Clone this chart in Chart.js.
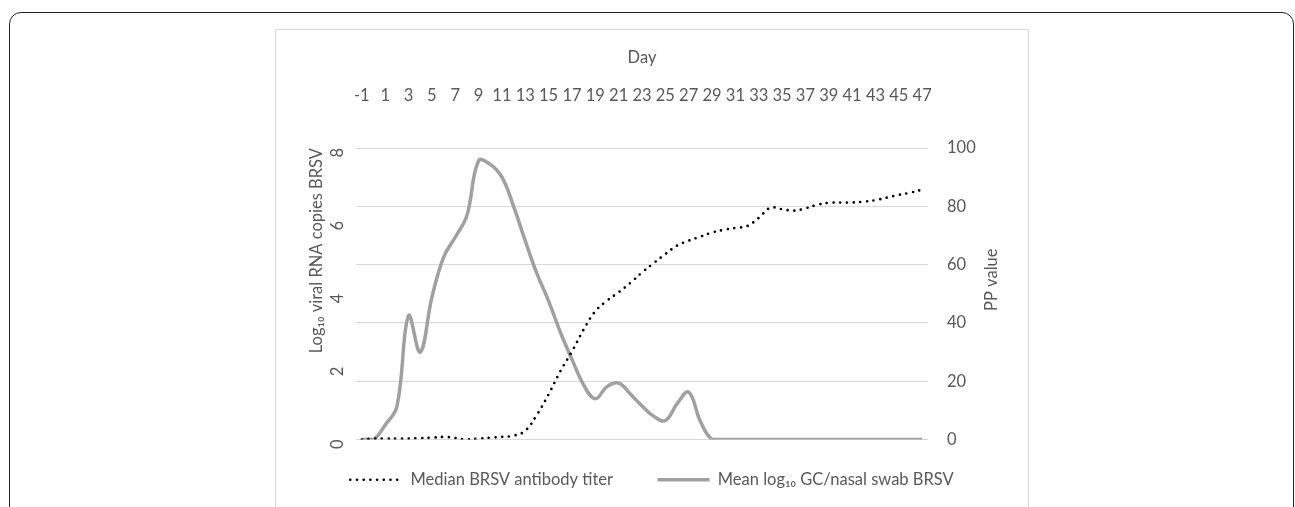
<!DOCTYPE html>
<html>
<head>
<meta charset="utf-8">
<script src="https://cdn.jsdelivr.net/npm/chart.js@4.4.1/dist/chart.umd.min.js"></script>
<style>
  html, body { margin: 0; padding: 0; background: #fff; width: 1295px; height: 507px; overflow: hidden; }
  #frame { position: absolute; left: 9px; top: 12px; width: 1285px; height: 560px; border: 1.5px solid #222; border-radius: 12px; box-sizing: border-box; }
  #box { position: absolute; left: 275px; top: 29px; width: 754px; height: 540px; border: 1px solid #d9d9d9; box-sizing: border-box; }
  #c { position: absolute; left: 276px; top: 30px; }
</style>
</head>
<body>
<div id="frame"></div>
<div id="box"></div>
<canvas id="c" width="752" height="477"></canvas>
<script>
const days = [-1,0,1,2,3,4,5,6,7,8,9,10,11,12,13,14,15,16,17,18,19,20,21,22,23,24,25,26,27,28,29,30,31,32,33,34,35,36,37,38,39,40,41,42,43,44,45,46,47];

const meanLog10GC = [0,0,0.4,0.9,3.4,2.4,3.9,5.0,5.55,6.15,7.65,7.55,7.2,6.4,5.45,4.55,3.8,2.95,2.2,1.5,1.12,1.45,1.55,1.25,0.92,0.64,0.52,0.98,1.3,0.5,0,0,0,0,0,0,0,0,0,0,0,0,0,0,0,0,0,0,0];

const medianPP = [0,0.3,0.3,0.3,0.3,0.5,0.6,0.9,0.5,0,0.3,0.6,0.9,1.3,3.0,8.5,15.5,23.4,30.2,37.7,44,47.6,50.5,53.7,57.3,60.5,63.6,66.5,68.2,69.6,71,71.9,72.6,73.2,76,79.5,79,78.5,79.3,80.5,81.2,81.3,81.3,81.6,82.1,83,83.9,84.7,85.7];

const leftTicks = [0,2,4,6,8];
const rightTicks = [0,20,40,60,80,100];

const TXT = '#595959';
const FONT = "Lato, 'Noto Sans', sans-serif";
const FS = 16.5;

const rightTitlePlugin = {
  id: 'rightTitle',
  afterDraw(chart) {
    const s = chart.scales.y1;
    const ctx = chart.ctx;
    ctx.save();
    ctx.translate(s.left + 64, (s.top + s.bottom) / 2 - 14);
    ctx.rotate(-Math.PI / 2);
    ctx.fillStyle = TXT;
    ctx.font = FS + "px " + FONT;
    ctx.textAlign = 'center';
    ctx.textBaseline = 'middle';
    ctx.fillText('PP value', 0, 0);
    ctx.restore();
  }
};

new Chart(document.getElementById('c'), {
  type: 'line',
  data: {
    labels: days.map(String),
    datasets: [
      {
        label: 'Median BRSV antibody titer',
        data: medianPP,
        yAxisID: 'y1',
        borderColor: '#000',
        backgroundColor: '#000',
        borderWidth: 2.7,
        borderDash: [0, 6.7],
        borderCapStyle: 'round',
        pointRadius: 0,
        tension: 0.4,
        fill: false
      },
      {
        label: 'Mean log₁₀ GC/nasal swab BRSV',
        data: meanLog10GC,
        yAxisID: 'y',
        borderColor: '#a0a0a0',
        backgroundColor: '#a0a0a0',
        borderWidth: 3.5,
        borderCapStyle: 'butt',
        pointRadius: 0,
        tension: 0.4,
        fill: false
      }
    ]
  },
  options: {
    responsive: false,
    animation: false,
    devicePixelRatio: 1,
    layout: { padding: { left: 0, right: 0, top: 0, bottom: 9 } },
    plugins: {
      tooltip: { enabled: false },
      legend: {
        position: 'bottom',
        labels: {
          color: TXT,
          font: { family: FONT, size: FS },
          usePointStyle: true,
          pointStyle: 'line',
          pointStyleWidth: 52,
          padding: 32,
          generateLabels(chart) {
            const items = Chart.defaults.plugins.legend.labels.generateLabels(chart);
            items.forEach(it => {
              const ds = chart.data.datasets[it.datasetIndex];
              it.lineDash = ds.borderDash || [];
              it.lineCap = ds.borderCapStyle || 'butt';
              it.lineWidth = ds.borderWidth;
              it.strokeStyle = ds.borderColor;
              if (it.datasetIndex === 0) it.text = it.text + '\u2002 ';
            });
            return items;
          }
        }
      }
    },
    scales: {
      x: {
        type: 'category',
        position: 'top',
        offset: true,
        grid: { display: false, drawTicks: false },
        border: { display: false },
        ticks: {
          autoSkip: false,
          maxRotation: 0,
          minRotation: 0,
          padding: 42,
          color: TXT,
          font: { family: FONT, size: FS },
          callback: function(v, i) { return i % 2 === 0 ? this.getLabelForValue(v) : ''; }
        },
        title: { display: true, text: 'Day', color: TXT, font: { family: FONT, size: FS }, padding: { top: 18, bottom: 0 } },
        afterFit(s) { s.height = 118; }
      },
      y: {
        position: 'left',
        min: 0, max: 8,
        afterBuildTicks(s) { s.ticks = leftTicks.map(v => ({ value: v })); },
        grid: { display: false, drawTicks: false },
        border: { display: false },
        ticks: { color: TXT, font: { family: FONT, size: FS }, padding: 18, minRotation: 90, maxRotation: 90 },
        title: { display: true, text: 'Log₁₀ viral RNA copies BRSV', align: 'end', color: TXT, font: { family: FONT, size: FS }, padding: { top: 31, bottom: 0 } },
        afterFit(s) { s.width = 80; }
      },
      y1: {
        position: 'right',
        min: 0, max: 100,
        afterBuildTicks(s) { s.ticks = rightTicks.map(v => ({ value: v })); },
        grid: { display: true, color: '#d9d9d9', lineWidth: 1, drawTicks: false },
        border: { display: false },
        ticks: { color: TXT, font: { family: FONT, size: FS }, padding: 19 },
        afterFit(s) { s.width = 100; }
      }
    }
  },
  plugins: [rightTitlePlugin]
});
</script>
</body>
</html>
